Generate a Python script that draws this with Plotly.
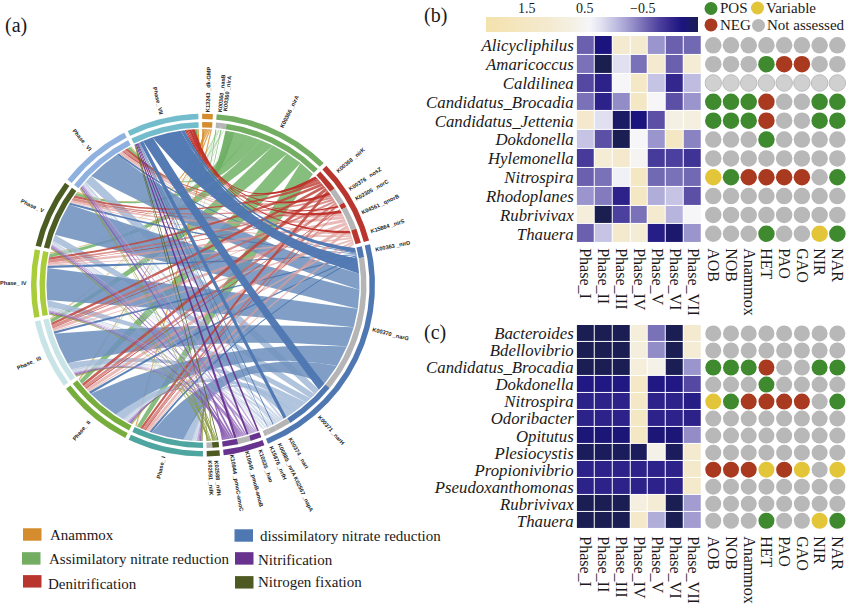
import numpy as np
import plotly.graph_objects as go

W, H = 850, 609
CX, CY = 203, 285
SERIF = "Liberation Serif"
SANS = "Liberation Sans"

PHASES = ["Phase_I", "Phase_II", "Phase_III", "Phase_IV", "Phase_V", "Phase_VI", "Phase_VII"]
PHASE_LABELS = ["Phase_ I", "Phase_ II", "Phase_ III", "Phase_ IV", "Phase_ V", "Phase_ VI", "Phase_ VII"]
PHASE_COLORS = ["#4fa59f", "#76ad3c", "#c8e4e6", "#a8cc3a", "#4b5d23", "#8fb1df", "#73bccb"]

GROUPS = ["Anammox", "Assimilatory nitrate reduction", "Denitrification",
          "dissimilatory nitrate reduction", "Nitrification", "Nitrogen fixation"]
GROUP_COLORS = ["#d48c2c", "#72ad62", "#b8362e", "#4f78b2", "#67338e", "#4d5a22"]

KO_LABELS = ["K13243 _dk-GMP", "K00360 _nasB", "K00360 _nirA", "K00366 _nirA",
             "K00368 _nirK", "K00376 _nosZ", "K02305 _norC", "K04561 _qnorB", "K15864 _nirS",
             "K00363 _nirD", "K00370 _narG", "K00371 _narH", "K00374 _narI",
             "K00885 _nrfA K02567 _napA", "", "K15876 _nrfH",
             "K10535 _hao", "K10945 _pmoB-amoB", "K10944 _pmoC-amoC",
             "K02588 _nifH", "K02591 _nifK"]
KO_GROUP = [0, 1, 1, 1, 2, 2, 2, 2, 2, 3, 3, 3, 3, 3, 3, 3, 4, 4, 4, 5, 5]
KO_INNER = ["#d48c2c", "#b5b5b5", "#b5b5b5", "#72ad62",
            "#b8362e", "#b5b5b5", "#b8362e", "#b5b5b5", "#b8362e",
            "#4f78b2", "#b5b5b5", "#4f78b2", "#b5b5b5", "#b5b5b5", "#b5b5b5", "#b5b5b5",
            "#67338e", "#b5b5b5", "#67338e", "#4d5a22", "#b5b5b5"]
KO_RIBBON = ["rgba(217,142,43,.78)", "rgba(169,211,160,.75)", "rgba(169,211,160,.75)", "rgba(124,184,114,.92)",
             "rgba(192,69,60,.85)", "rgba(203,101,96,.72)", "rgba(189,58,50,.9)", "rgba(222,154,150,.68)", "rgba(224,166,162,.72)",
             "rgba(75,117,176,.9)", "rgba(112,146,190,.88)", "rgba(165,188,217,.88)", "rgba(197,211,230,.9)",
             "rgba(197,211,230,.9)", "rgba(197,211,230,.9)", "rgba(197,211,230,.9)",
             "rgba(180,155,210,.85)", "rgba(160,122,192,.85)", "rgba(138,92,176,.85)",
             "rgba(138,154,60,.85)", "rgba(138,154,60,.85)"]
GROUP_STRONG = ["rgba(217,142,43,.95)", "rgba(110,175,100,.95)", "rgba(190,46,40,.95)",
                "rgba(78,119,178,.97)", "rgba(103,51,142,.95)", "rgba(80,95,30,.95)"]

# ribbon width at the pathway-gene end, one value per phase (I..VII)
KO_END = [
    [.5, .5, .5, .5, .5, .5, .6],
    [.25, .25, .25, .25, .25, .25, .3],
    [.27, .27, .27, .27, .27, .27, .28],
    [6, 6, 6, 5, 5, 5, 3.3],
    [1.1, 1.1, 1.1, 1.1, 1.1, 1.1, 1.2],
    [.8, .8, .8, .8, .8, .8, 1.1],
    [.2, .2, .2, .2, .2, .2, .6],
    [1.2, 1.2, 1.2, 1.2, 1.2, 1.2, 1.2],
    [.7, .7, .7, .7, .7, .7, 1.0],
    [.4, .4, .4, .4, .3, .3, 1.8],
    [8, 8, 7.5, 7, 7, 6, 5.5],
    [3.2, 3, 2.7, 2.3, 2.2, 2.2, 3],
    [.7, .7, .7, .7, .7, .7, 1.2],
    [.35, .35, .35, .35, .35, .35, .3],
    [.14, .14, .14, .14, .14, .14, .16],
    [.17, .17, .17, .17, .17, .17, .18],
    [.6, .6, .6, .6, .5, .5, .6],
    [.7, .7, .6, .6, .6, .6, .7],
    [.8, .8, .8, .8, .7, .7, .9],
    [.35, .35, .35, .35, .35, .35, .3],
    [.3, .3, .3, .3, .3, .3, .2],
]
# ribbon width at the phase end
PHASE_END = [
    [.4, .4, .3, .3, .3, .3, .5],
    [.1, .1, .1, .1, .1, .1, .1],
    [.1, .1, .1, .1, .1, .1, .1],
    [1.4, 1.5, 1.3, 1.3, 1.2, 1.2, .8],
    [.9, 1, .9, .9, .9, .9, 1.2],
    [.9, 1, .9, .8, .8, .9, 1],
    [.3, .3, .2, .2, .2, .3, .5],
    [1.1, 1.2, 1, .9, .9, 1.1, .5],
    [.4, .4, .3, .3, .3, .4, .5],
    [.9, .9, .8, .8, .8, .8, 1.4],
    [11.9, 12, 11.9, 11.9, 12.3, 12.3, 10.6],
    [3.2, 3.2, 2.6, 2.4, 2.4, 3, 3.8],
    [.8, .8, .7, .6, .6, .7, 1.3],
    [.4, .4, .3, .3, .3, .3, .2],
    [.3, .3, .2, .2, .2, .2, .2],
    [.3, .3, .3, .2, .2, .2, .2],
    [.5, .4, .4, .4, .4, .4, .3],
    [.5, .5, .4, .4, .4, .5, .3],
    [.6, .6, .5, .4, .5, .6, .4],
    [.4, .3, .3, .3, .3, .3, .3],
    [.2, .2, .2, .2, .2, .2, .2],
]

SPECIES_B = ["Alicycliphilus", "Amaricoccus", "Caldilinea", "Candidatus_Brocadia", "Candidatus_Jettenia",
             "Dokdonella", "Hylemonella", "Nitrospira", "Rhodoplanes", "Rubrivivax", "Thauera"]
VALUES_B = [
    [-.6, -1.2, 1.1, 1.1, -.3, -.6, -.55],
    [-.5, -1.47, .2, -.5, 1.1, -.6, 1.0],
    [-.75, -1.05, .45, 1.4, 0, -1, -.05],
    [-.5, -1.05, -.35, 1.5, .45, -.7, -.3],
    [1.2, .2, -1.35, -1.2, -.7, .7, .8],
    [0, -.7, -1.45, .45, -.3, 1.5, -.4],
    [-.85, 1, 1.2, .5, -.85, -.8, -.9],
    [-.6, -.5, .35, 1.5, -.55, -.5, -.55],
    [-.3, -.45, -1.05, 1.5, -.15, 0, -.7],
    [.9, -1.47, -.8, -.5, 1.1, -.1, .45],
    [-.6, 0, 1.2, 1, -1.1, -1.3, -.3],
]
SPECIES_C = ["Bacteroides", "Bdellovibrio", "Candidatus_Brocadia", "Dokdonella", "Nitrospira", "Odoribacter",
             "Opitutus", "Plesiocystis", "Propionivibrio", "Pseudoxanthomonas", "Rubrivivax", "Thauera"]
VALUES_C = [
    [-1.45, -1.45, -1.45, .9, -.5, -1.45, 1.1],
    [-1.45, -1.45, -1.45, .85, -.35, -1.45, 1.0],
    [-1.45, -1.45, -1.45, .9, .65, -1.45, -.3],
    [-1.15, -1.15, -1.15, 1.4, -1.15, -1.15, -.75],
    [-1.05, -1.05, -1.05, 1.4, -1.05, -1.05, -1.1],
    [-1.05, -1.05, -1.05, 1.5, -1.05, -1.05, -1.05],
    [-1.25, -1.25, -1.25, 1.5, -1.25, -1.25, -.35],
    [-1.4, -1.4, -1.4, -1.4, .65, -1.4, 1.1],
    [-1.05, -1.05, -1.05, -1.05, -1.05, -1.05, 1.3],
    [-1.05, -1.05, -1.05, -1.05, -1.05, -1.05, 1.3],
    [-1.45, -1.45, -1.45, .8, 1.0, -1.45, -.25],
    [-1.45, -1.45, -1.45, 1.3, -.15, -1.45, -.25],
]
TRAITS = ["AOB", "NOB", "Anammox", "HET", "PAO", "GAO", "NIR", "NAR"]
STATUS_B = ["NNNNNNNN", "NNNPMMNN", "LLLLLLLL", "PPPMNNPP", "PPPMNNPP", "NNNPNNNN", "NNNNNNNN",
            "VPMMMMNP", "NNNNNNNN", "NNNNNNNN", "NNNPNNVP"]
STATUS_C = ["NNNNNNNN", "NNNNNNNN", "PPPMNNPP", "NNNPNNNN", "VPMMMMNP", "NNNNNNNN", "NNNNNNNN", "NNNNNNNN",
            "MMMVMVNV", "NNNNNNNN", "NNNNNNNN", "NNNPNNVP"]
STATUS_COLORS = {"N": "#b8b8b8", "L": "#d0d0d0", "P": "#3f8a2f", "M": "#a93a1f", "V": "#e3c53a"}
KEY_ITEMS = [("POS", "P"), ("Variable", "V"), ("NEG", "M"), ("Not assessed", "N")]

COLOR_STOPS = [(0, "#f4e2ad"), (.30, "#f4ead0"), (.41, "#f4f1e4"), (.49, "#f6f6fa"), (.546, "#e0e0f0"),
               (.60, "#c5c4e4"), (.655, "#a9a6d6"), (.71, "#8a83c2"), (.764, "#6a60ae"), (.82, "#4b3f9d"),
               (.87, "#34288e"), (.924, "#1c1480"), (1, "#1a1f50")]
BAR_TICKS = [1.5, .5, -.5]
BAR_TICK_TEXT = ["1.5", "0.5", "\u22120.5"]

R_OUT, R_OUT_IN, R_INNER, R_INNER_IN, R_CHORD = 172, 166.5, 163.5, 158, 156.5
N_KO, N_PH = len(KO_END), len(PHASES)
ko_totals = [sum(r) for r in KO_END]
ph_totals = [sum(PHASE_END[k][p] for k in range(N_KO)) for p in range(N_PH)]
gap = (360 - sum(ko_totals) - sum(ph_totals)) / (len(GROUPS) + N_PH)


def pol(theta, r):
    t = np.radians(theta)
    return r * np.sin(t), r * np.cos(t)


def ring(a, b, r0, r1):
    t = np.linspace(a, b, max(int(abs(b - a) * 2), 3))
    x0, y0 = pol(t, r1)
    x1, y1 = pol(t[::-1], r0)
    return np.r_[x0, x1, x0[0]], np.r_[y0, y1, y0[0]]


def bez(a, b, r=R_CHORD, n=50):
    px, py = pol(a, r)
    qx, qy = pol(b, r)
    span = abs((a - b + 180) % 360 - 180)
    k = .4 + .6 * (span / 180) ** 2
    cx, cy = (px + qx) / 2 * k, (py + qy) / 2 * k
    t = np.linspace(0, 1, n)
    return (1 - t) ** 2 * px + 2 * t * (1 - t) * cx + t ** 2 * qx, (1 - t) ** 2 * py + 2 * t * (1 - t) * cy + t ** 2 * qy


def ribbon(a1, a2, b1, b2):
    arc = lambda u, v: pol(np.linspace(u, v, max(int((v - u) * 2), 2)), R_CHORD)
    pieces = [arc(a1, a2), bez(a2, b1), arc(b1, b2), bez(b2, a1)]
    return np.concatenate([p[0] for p in pieces]), np.concatenate([p[1] for p in pieces])


fig = go.Figure()


def poly(x, y, color):
    fig.add_trace(go.Scatter(x=x, y=y, mode="lines", fill="toself", fillcolor=color, line=dict(width=0),
                             hoverinfo="skip", showlegend=False, xaxis="x", yaxis="y"))


# sector layout
angle = -.3
ko_start = [0.0] * N_KO
group_span = {}
for k in range(N_KO):
    g = KO_GROUP[k]
    if k > 0 and KO_GROUP[k - 1] != g:
        angle += gap
    ko_start[k] = angle
    s = group_span.setdefault(g, [angle, angle])
    angle += ko_totals[k]
    s[1] = angle
angle += gap
ph_start = []
for p in range(N_PH):
    ph_start.append(angle)
    angle += ph_totals[p] + gap

# ribbons: inside a gene sector phases run VII..I clockwise; inside a phase genes run in reverse order
ko_pos = {}
for k in range(N_KO):
    a = ko_start[k]
    for p in range(N_PH - 1, -1, -1):
        ko_pos[(k, p)] = (a, a + KO_END[k][p])
        a += KO_END[k][p]
ph_pos = {}
for p in range(N_PH):
    a = ph_start[p]
    for k in range(N_KO - 1, -1, -1):
        ph_pos[(k, p)] = (a, a + PHASE_END[k][p])
        a += PHASE_END[k][p]

DRAW_ORDER = [3, 1, 2, 0, 12, 13, 14, 15, 11, 10, 9, 7, 8, 5, 4, 6, 16, 17, 18, 19, 20]
for k in DRAW_ORDER:
    for p in range(N_PH - 1):
        a = ph_pos[(k, p)]
        b = ko_pos[(k, p)]
        x, y = ribbon(a[0], a[1], b[0], b[1])
        poly(x, y, KO_RIBBON[k])
for k in [3, 1, 2, 0, 8, 7, 6, 5, 4, 16, 17, 18, 19, 20, 15, 14, 13, 12, 11, 10, 9]:
    a = ph_pos[(k, 6)]
    b = ko_pos[(k, 6)]
    x, y = ribbon(a[0], a[1], b[0], b[1])
    poly(x, y, GROUP_STRONG[KO_GROUP[k]])

# rings
for g, (a, b) in group_span.items():
    x, y = ring(a, b, R_OUT_IN, R_OUT)
    poly(x, y, GROUP_COLORS[g])
for k in range(N_KO):
    x, y = ring(ko_start[k], ko_start[k] + ko_totals[k], R_INNER_IN, R_INNER)
    poly(x, y, KO_INNER[k])
for p in range(N_PH):
    for r0, r1 in ((R_OUT_IN, R_OUT), (R_INNER_IN, R_INNER)):
        x, y = ring(ph_start[p], ph_start[p] + ph_totals[p], r0, r1)
        poly(x, y, PHASE_COLORS[p])

annotations = []


def radial_label(text, theta):
    w = len(text) * 3.05
    r = R_OUT + 3.5 + w / 2
    x, y = pol(theta, r)
    rot = theta - 90 if theta < 180 else theta - 270
    annotations.append(dict(x=float(x), y=float(y), xref="x", yref="y", text=text, showarrow=False, textangle=float(rot),
                            xanchor="center", yanchor="middle",
                            font=dict(family=SANS, size=5.6, color="#222222", weight="bold")))


for k in range(N_KO):
    if KO_LABELS[k]:
        radial_label(KO_LABELS[k], ko_start[k] + ko_totals[k] / 2)
for p in range(N_PH):
    radial_label(PHASE_LABELS[p], ph_start[p] + ph_totals[p] / 2)


def dom(a, b, total):
    return [a / total, b / total]


def ydom(top, bottom):
    return [1 - bottom / H, 1 - top / H]


# heatmaps
for idx, (species, values) in enumerate(((SPECIES_B, VALUES_B), (SPECIES_C, VALUES_C))):
    xa, ya = ("x2", "y2") if idx == 0 else ("x4", "y4")
    fig.add_trace(go.Heatmap(z=(-np.array(values)).tolist(), x=PHASES, y=species, coloraxis="coloraxis",
                             xgap=1, ygap=1, hoverinfo="skip", xaxis=xa, yaxis=ya))

# status dots
for idx, (species, status) in enumerate(((SPECIES_B, STATUS_B), (SPECIES_C, STATUS_C))):
    xa, ya = ("x3", "y3") if idx == 0 else ("x5", "y5")
    for code, col in STATUS_COLORS.items():
        xs, ys = [], []
        for s, row in zip(species, status):
            for t, c in zip(TRAITS, row):
                if c == code:
                    xs.append(t)
                    ys.append(s)
        if xs:
            fig.add_trace(go.Scatter(x=xs, y=ys, mode="markers", hoverinfo="skip", showlegend=False, xaxis=xa, yaxis=ya,
                                     marker=dict(size=16.5 if idx == 0 else 16, color=col,
                                                 line=dict(width=1 if code == "L" else 0, color="#bcbcbc"))))

# status key
KEY_XY = [(711, 7.5), (757.5, 7), (711, 24), (758.5, 24.5)]
KEY_TEXT_X = [718, 764, 718, 765]
for (label, code), (px, py), tx in zip(KEY_ITEMS, KEY_XY, KEY_TEXT_X):
    fig.add_trace(go.Scatter(x=[px - CX], y=[CY - py], mode="markers", hoverinfo="skip", showlegend=False,
                             marker=dict(size=13, color=STATUS_COLORS[code]), xaxis="x", yaxis="y"))
    annotations.append(dict(x=tx - CX, y=CY - py, xref="x", yref="y", text=label, showarrow=False,
                            xanchor="left", yanchor="middle", font=dict(family=SERIF, size=15, color="#1a1a1a")))

# pathway key
LEG_ORDER = [0, 1, 2, 3, 4, 5]
LEG_BOX = [(23, 529), (22, 553), (23, 576), (234.5, 530), (235, 553), (235, 577)]
LEG_TEXT = [(48, 536), (47, 560), (46, 585), (258, 537), (256, 561), (256, 583)]
shapes = []
for g, (bx, by), (tx, ty) in zip(LEG_ORDER, LEG_BOX, LEG_TEXT):
    shapes.append(dict(type="rect", xref="x", yref="y", x0=bx - CX, x1=bx + 18.5 - CX, y0=CY - by, y1=CY - by - 12.5,
                       fillcolor=GROUP_COLORS[g], line=dict(width=0), layer="above"))
    annotations.append(dict(x=tx - CX, y=CY - ty, xref="x", yref="y", text=GROUPS[g], showarrow=False,
                            xanchor="left", yanchor="middle", font=dict(family=SERIF, size=15, color="#1a1a1a")))

for label, px, py in (("(a)", 3, 25), ("(b)", 422, 15), ("(c)", 422, 333)):
    annotations.append(dict(x=px - CX, y=CY - py, xref="x", yref="y", text=label, showarrow=False,
                            xanchor="left", yanchor="middle", font=dict(family=SERIF, size=20, color="#1a1a1a")))

cmin, cmax = -2.21, 1.47
BAR_LEFT, BAR_WIDTH = 486, 212
for v, txt in zip(BAR_TICKS, BAR_TICK_TEXT):
    annotations.append(dict(x=BAR_LEFT + (-v - cmin) / (cmax - cmin) * BAR_WIDTH - CX, y=CY - 8, xref="x", yref="y", text=txt,
                            showarrow=False, xanchor="center", yanchor="middle",
                            font=dict(family=SERIF, size=14, color="#1a1a1a")))

base_x = dict(type="category", side="bottom", ticklen=0, showgrid=False, zeroline=False, showline=False,
              tickangle=90, tickfont=dict(family=SERIF, size=16, color="#1a1a1a"))
base_y = dict(type="category", ticklen=0, showgrid=False, zeroline=False, showline=False)
ytick = dict(tickfont=dict(family=SERIF, size=16.8, color="#1a1a1a", style="italic"), ticklabelstandoff=2)


def cat_x(cats, left, right, anchor, standoff):
    return dict(domain=dom(left, right, W), anchor=anchor, categoryorder="array", categoryarray=cats,
                tickmode="array", tickvals=cats, ticktext=cats, range=[-.5, len(cats) - .5],
                ticklabelstandoff=standoff, **base_x)


def cat_y(cats, top, bottom, anchor, labels):
    extra = dict(ytick) if labels else dict(showticklabels=False)
    return dict(domain=ydom(top, bottom), anchor=anchor, categoryorder="array", categoryarray=cats,
                tickmode="array", tickvals=cats, ticktext=cats, range=[len(cats) - .5, -.5], **base_y, **extra)


fig.update_layout(
    width=W, height=H, margin=dict(l=0, r=0, t=0, b=0), paper_bgcolor="white", plot_bgcolor="white",
    showlegend=False, shapes=shapes, annotations=annotations,
    coloraxis=dict(colorscale=[[a, b] for a, b in COLOR_STOPS], cmin=cmin, cmax=cmax,
                   colorbar=dict(orientation="h", lenmode="pixels", len=BAR_WIDTH, thicknessmode="pixels", thickness=15,
                                 x=BAR_LEFT / W, xanchor="left", y=1 - 30.7 / H, yanchor="bottom", xpad=0, ypad=0,
                                 outlinewidth=0, showticklabels=False, ticks="")),
    xaxis=dict(domain=[0, 1], range=[-CX, W - CX], visible=False, fixedrange=True),
    yaxis=dict(domain=[0, 1], range=[CY - H, CY], visible=False, fixedrange=True),
    xaxis2=cat_x(PHASES, 576.7, 701.7, "y2", 4),
    yaxis2=cat_y(SPECIES_B, 35, 243, "x2", True),
    xaxis3=cat_x(TRAITS, 704.4, 846.2, "y3", 4),
    yaxis3=cat_y(SPECIES_B, 35, 243, "x3", False),
    xaxis4=cat_x(PHASES, 576.7, 701.7, "y4", 6),
    yaxis4=cat_y(SPECIES_C, 325, 530, "x4", True),
    xaxis5=cat_x(TRAITS, 704.4, 846.2, "y5", 6),
    yaxis5=cat_y(SPECIES_C, 325, 530, "x5", False),
)

fig.write_html("out.html", config=dict(displayModeBar=False),
               post_script="document.body.style.margin='0';document.documentElement.style.overflow='hidden';")
